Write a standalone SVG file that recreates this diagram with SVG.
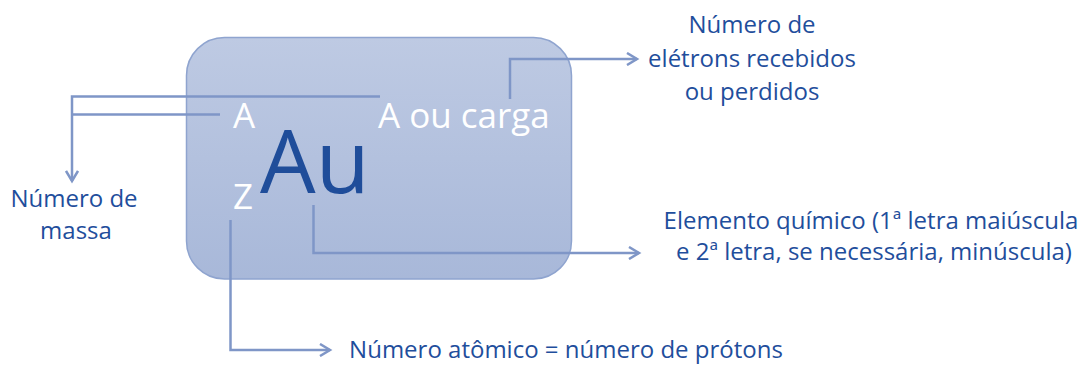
<svg xmlns="http://www.w3.org/2000/svg" width="1092" height="365" viewBox="0 0 1092 365">
<style>
.lbl{font-family:"Open Sans","Noto Sans",sans-serif;font-size:24px;fill:#1F4E9C;text-anchor:middle}
.wh{font-family:"Open Sans","Noto Sans",sans-serif;font-size:35px;fill:#FFFFFF}
.au{font-family:"Open Sans","Noto Sans",sans-serif;font-size:88px;fill:#1F4D9A}
.con{fill:none;stroke:#7F96C7;stroke-width:2.5}
</style>
<defs>
<linearGradient id="g" x1="0" y1="0" x2="0" y2="1">
<stop offset="0" stop-color="#BECAE3"/>
<stop offset="1" stop-color="#A8B8D9"/>
</linearGradient>
<marker id="ah" markerWidth="14" markerHeight="14" refX="11" refY="7" orient="auto" markerUnits="userSpaceOnUse">
<path d="M1,1 L11,7 L1,13" fill="none" stroke="#7F96C7" stroke-width="2.5"/>
</marker>
</defs>
<g id="box">
<rect x="186.5" y="37.5" width="385" height="241.5" rx="38" ry="38" fill="url(#g)" stroke="#8FA4CF" stroke-width="1.5"/>
<text class="wh" x="233" y="128">A</text>
<text class="wh" x="233" y="209">Z</text>
<text class="au" x="260" y="193">Au</text>
<text class="wh" x="378" y="128">A ou carga</text>
</g>
<g id="connectors">
<path class="con" d="M380,96.5 H72 V181" marker-end="url(#ah)"/>
<path class="con" d="M220,114.5 H72"/>
<path class="con" d="M510,99 V59 H637" marker-end="url(#ah)"/>
<path class="con" d="M313.5,205 V253 H639" marker-end="url(#ah)"/>
<path class="con" d="M230.5,220 V350 H330" marker-end="url(#ah)"/>
</g>
<g id="massa">
<text class="lbl" x="74" y="207">Número de</text>
<text class="lbl" x="76" y="239">massa</text>
</g>
<g id="eletrons">
<text class="lbl" x="752" y="33">Número de</text>
<text class="lbl" x="752" y="67">elétrons recebidos</text>
<text class="lbl" x="752" y="100">ou perdidos</text>
</g>
<g id="elemento">
<text class="lbl" x="871" y="229">Elemento químico (1ª letra maiúscula</text>
<text class="lbl" x="874" y="260">e 2ª letra, se necessária, minúscula)</text>
</g>
<g id="atomico">
<text class="lbl" x="566" y="358">Número atômico = número de prótons</text>
</g>
</svg>
